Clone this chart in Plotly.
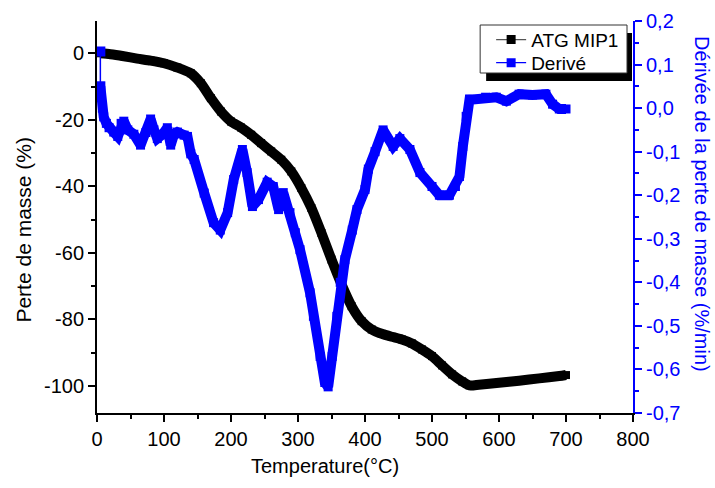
import plotly.graph_objects as go

# ---------------- data ----------------
temp_atg = [5, 20, 40, 60, 80, 100, 120, 140, 155, 170, 185, 200, 215, 230, 245,
            260, 275, 290, 305, 320, 335, 350, 365, 380, 395, 410, 425, 440, 455,
            470, 485, 500, 515, 530, 545, 556, 570, 600, 630, 660, 690, 700]
mass_loss = [0.0, -0.3, -0.9, -1.6, -2.2, -3.0, -4.3, -6.0, -9.0, -13.5, -17.5, -20.5,
             -22.3, -24.5, -27.0, -29.5, -32.0, -35.5, -40.5, -46.5, -54.0, -62.0,
             -69.5, -76.0, -80.5, -83.0, -84.3, -85.2, -86.0, -87.2, -89.0, -91.0,
             -93.8, -96.5, -98.6, -99.8, -99.6, -99.0, -98.4, -97.7, -97.0, -96.7]

temp_deriv = [5, 5, 6, 8, 10, 14, 18, 25, 31, 36, 40, 46, 55, 65, 73, 80, 85, 90, 98,
              105, 110, 115, 120, 130, 135, 140, 145, 160, 174, 184, 195, 204, 217,
              224, 232, 241, 254, 263, 271, 278, 288, 296, 303, 318, 323, 333, 340,
              345, 351, 358, 363, 370, 381, 388, 400, 405, 415, 427, 442, 452, 467,
              482, 500, 511, 526, 535, 541, 546, 551, 556, 561, 580, 596, 611, 630,
              650, 670, 680, 690, 700]
deriv = [0.13, 0.05, 0.025, 0.0, -0.02, -0.035, -0.045, -0.055, -0.065, -0.035, -0.03,
         -0.05, -0.06, -0.085, -0.056, -0.025, -0.05, -0.07, -0.06, -0.045, -0.085,
         -0.06, -0.055, -0.062, -0.065, -0.105, -0.118, -0.195, -0.263, -0.28, -0.24,
         -0.164, -0.095, -0.148, -0.226, -0.21, -0.17, -0.18, -0.233, -0.194, -0.24,
         -0.286, -0.325, -0.424, -0.478, -0.57, -0.63, -0.64, -0.57, -0.478, -0.4,
         -0.348, -0.28, -0.233, -0.187, -0.14, -0.1, -0.05, -0.088, -0.07, -0.095,
         -0.148, -0.18, -0.2, -0.2, -0.18, -0.157, -0.088, -0.019, 0.02, 0.02, 0.025,
         0.025, 0.016, 0.032, 0.03, 0.032, 0.009, -0.002, -0.002]

x_ticks = [0, 100, 200, 300, 400, 500, 600, 700, 800]
x_ticktext = ["0", "100", "200", "300", "400", "500", "600", "700", "800"]
left_ticks = [0, -20, -40, -60, -80, -100]
left_ticktext = ["0", "-20", "-40", "-60", "-80", "-100"]
right_tickvals = [0.2, 0.1, 0.0, -0.1, -0.2, -0.3, -0.4, -0.5, -0.6, -0.7]
right_ticktext = ["0,2", "0,1", "0,0", "-0,1", "-0,2", "-0,3", "-0,4", "-0,5", "-0,6", "-0,7"]
right_minor = [0.15, 0.05, -0.05, -0.15, -0.25, -0.35, -0.45, -0.55, -0.65]

FONT = "Liberation Sans, Arial, sans-serif"
BLUE = "#0000ff"

fig = go.Figure()

# ATG curve
fig.add_trace(go.Scatter(
    x=temp_atg, y=mass_loss, mode="lines+markers",
    line=dict(color="black", width=10, shape="spline", smoothing=0.6),
    marker=dict(symbol="square", size=8, color="black"),
    showlegend=False, xaxis="x", yaxis="y"))

# derivative: thin first segment, then thick
fig.add_trace(go.Scatter(
    x=temp_deriv[:2], y=deriv[:2], mode="lines+markers",
    line=dict(color=BLUE, width=1.5),
    marker=dict(symbol="square", size=10, color=BLUE),
    showlegend=False, xaxis="x", yaxis="y2"))
fig.add_trace(go.Scatter(
    x=temp_deriv[1:], y=deriv[1:], mode="lines+markers",
    line=dict(color=BLUE, width=10),
    marker=dict(symbol="square", size=9, color=BLUE),
    showlegend=False, xaxis="x", yaxis="y2"))

# legend entries (one per legend so row spacing matches)
fig.add_trace(go.Scatter(
    x=[None], y=[None], mode="lines+markers", name="ATG MIP1", legend="legend",
    line=dict(color="#555555", width=1.2),
    marker=dict(symbol="square", size=9, color="black")))
fig.add_trace(go.Scatter(
    x=[None], y=[None], mode="lines+markers", name="Derivé", legend="legend2",
    line=dict(color=BLUE, width=1.2),
    marker=dict(symbol="square", size=9, color=BLUE), yaxis="y2"))

L, R, T, B = 96.5, 82, 21, 75
W, H = 715, 488
pw, ph = W - L - R, H - T - B


def px(xp):
    return (xp - L) / pw


def py(yp):
    return 1 - (yp - T) / ph


legend_common = dict(xanchor="left", yanchor="top", bgcolor="rgba(0,0,0,0)",
                     borderwidth=0, font=dict(family=FONT, size=19, color="black"),
                     itemwidth=30)

fig.update_layout(
    width=W, height=H,
    margin=dict(l=L, r=R, t=T, b=B, autoexpand=False),
    paper_bgcolor="white", plot_bgcolor="white",
    font=dict(family=FONT, size=20, color="black"),
    showlegend=True,
    legend=dict(x=px(491), y=py(20.7), **legend_common),
    legend2=dict(x=px(491), y=py(43.8), **legend_common),
    xaxis=dict(range=[0, 800], tickmode="array", tickvals=x_ticks, ticktext=x_ticktext,
               ticks="outside", ticklen=7, tickwidth=2, tickcolor="black",
               showline=True, linewidth=2, linecolor="black",
               showgrid=False, zeroline=False,
               tickfont=dict(size=20, family=FONT),
               minor=dict(ticks="outside", ticklen=4, tickwidth=2, dtick=50,
                          tick0=0, tickcolor="black", showgrid=False),
               anchor="y"),
    xaxis2=dict(range=[0, 800], overlaying="x", side="top", anchor="y",
                tickmode="linear", tick0=0, dtick=50,
                ticks="inside", ticklen=5, tickwidth=2, tickcolor="black",
                showticklabels=False, showline=True, linewidth=2,
                linecolor="black", showgrid=False, zeroline=False),
    yaxis=dict(range=[-108.1, 9.7], tickmode="array", tickvals=left_ticks,
               ticktext=left_ticktext,
               ticks="outside", ticklen=7, tickwidth=2, tickcolor="black",
               showline=True, linewidth=2, linecolor="black",
               showgrid=False, zeroline=False,
               tickfont=dict(size=20, family=FONT),
               minor=dict(ticks="outside", ticklen=4, tickwidth=2, dtick=10,
                          tick0=0, tickcolor="black", showgrid=False)),
    yaxis2=dict(range=[-0.7, 0.2], overlaying="y", side="right", anchor="x",
                tickmode="array", tickvals=right_tickvals, ticktext=right_ticktext,
                ticks="outside", ticklen=7, tickwidth=2, tickcolor=BLUE,
                showline=True, linewidth=2, linecolor=BLUE,
                showgrid=False, zeroline=False,
                tickfont=dict(size=20, family=FONT, color=BLUE),
                minor=dict(ticks="outside", ticklen=4, tickwidth=2,
                           tickvals=right_minor, tickcolor=BLUE, showgrid=False)),
    annotations=[
        dict(text="Temperature(°C)", x=px(325), y=py(466), xref="paper", yref="paper",
             showarrow=False, xanchor="center", yanchor="middle",
             font=dict(size=20, family=FONT, color="black")),
        dict(text="Perte de masse (%)", x=px(22), y=py(230), xref="paper", yref="paper",
             showarrow=False, xanchor="center", yanchor="middle", textangle=-90,
             font=dict(size=21, family=FONT, color="black")),
        dict(text="Dérivée de la perte de masse (%/min)", x=px(702), y=py(204),
             xref="paper", yref="paper", showarrow=False, xanchor="center",
             yanchor="middle", textangle=90,
             font=dict(size=20, family=FONT, color=BLUE)),
    ],
    shapes=[
        # legend shadow and box
        dict(type="rect", xref="paper", yref="paper", layer="above",
             x0=px(486), x1=px(632), y0=py(33), y1=py(81),
             fillcolor="black", line=dict(width=0)),
        dict(type="rect", xref="paper", yref="paper", layer="above",
             x0=px(480), x1=px(627), y0=py(25), y1=py(73),
             fillcolor="white", line=dict(color="#333333", width=1)),
    ],
)

fig.write_html("out.html",
               config={"displayModeBar": False, "staticPlot": True},
               post_script="document.body.style.margin='0';"
                           "document.body.style.overflow='hidden';")
